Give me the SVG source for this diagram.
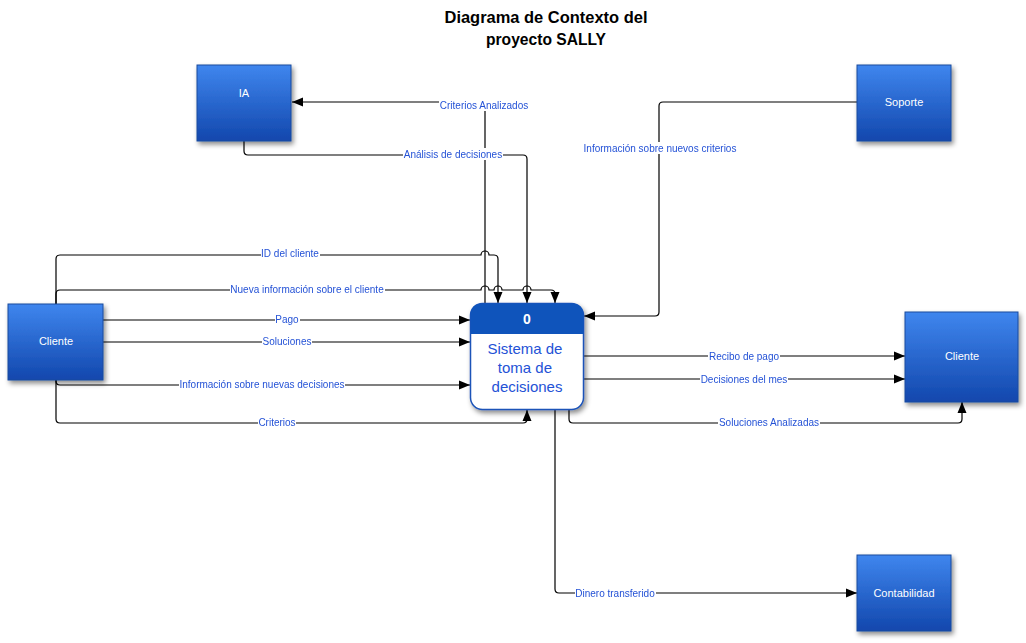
<svg xmlns="http://www.w3.org/2000/svg" width="1026" height="643" viewBox="0 0 1026 643">
<defs>
<linearGradient id="g" x1="0" y1="0" x2="0" y2="1">
<stop offset="0" stop-color="#3f86ee"/>
<stop offset="1" stop-color="#1247ad"/>
</linearGradient>
<filter id="sh" x="-20%" y="-20%" width="150%" height="150%">
<feDropShadow dx="2" dy="3" stdDeviation="2.5" flood-color="#000" flood-opacity="0.45"/>
</filter>
<filter id="bg" x="0" y="0" width="1" height="1" color-interpolation-filters="sRGB">
<feFlood flood-color="#fff"/>
<feComposite in="SourceGraphic"/>
</filter>
<marker id="ar" markerUnits="userSpaceOnUse" markerWidth="12" markerHeight="10" refX="11" refY="5" orient="auto">
<path d="M0,0.5 L11,5 L0,9.5 z" fill="#000"/>
</marker>
</defs>
<style>
.ext{fill:url(#g);stroke:#1c4a9e;stroke-width:1;filter:url(#sh)}
.et{font-family:"Liberation Sans",Arial,sans-serif;font-size:11px;fill:#fff;text-anchor:middle;dominant-baseline:central}
.c{fill:none;stroke:#000;stroke-width:1.2;marker-end:url(#ar)}
.lb{font-family:"Liberation Sans",Arial,sans-serif;font-size:10px;fill:#2452d6;text-anchor:middle;dominant-baseline:central;filter:url(#bg)}
.ti{font-family:"Liberation Sans",Arial,sans-serif;font-size:17px;font-weight:bold;fill:#000;text-anchor:middle}
</style>
<rect width="1026" height="643" fill="#fff"/>
<g id="title">
<text class="ti" x="546" y="23" textLength="203" lengthAdjust="spacingAndGlyphs">Diagrama de Contexto del</text>
<text class="ti" x="546" y="45" textLength="120" lengthAdjust="spacingAndGlyphs">proyecto SALLY</text>
</g>
<g id="connectors">
<path class="c" d="M485,303 V102 H292"/>
<path class="c" d="M244,141 V151 Q244,155 248,155 H523 Q527,155 527,159 V303"/>
<path class="c" d="M56,304 V259 Q56,255 60,255 H481 A4,4 0 0 1 489,255 H494 Q498,255 498,259 V303"/>
<path class="c" d="M56,304 V294 Q56,290 60,290 H481 A4,4 0 0 1 489,290 H494 A4,4 0 0 1 502,290 H523 A4,4 0 0 1 531,290 H551 Q555,290 555,294 V303"/>
<path class="c" d="M103,320 H470"/>
<path class="c" d="M103,342 H470"/>
<path class="c" d="M56,380 V381 Q56,385 60,385 H470"/>
<path class="c" d="M56,380 V419 Q56,423 60,423 H523 Q527,423 527,419 V410"/>
<path class="c" d="M857,102 H663 Q659,102 659,106 V312 Q659,316 655,316 H584"/>
<path class="c" d="M584,356 H905"/>
<path class="c" d="M584,379 H905"/>
<path class="c" d="M569,410 V419 Q569,423 573,423 H958 Q962,423 962,419 V402"/>
<path class="c" d="M555,410 V589 Q555,593 559,593 H857"/>
<text class="lb" x="484" y="105">Criterios Analizados</text>
<text class="lb" x="453" y="154">Análisis de decisiones</text>
<text class="lb" x="290" y="253">ID del cliente</text>
<text class="lb" x="307" y="289">Nueva información sobre el cliente</text>
<text class="lb" x="287" y="319">Pago</text>
<text class="lb" x="287" y="341">Soluciones</text>
<text class="lb" x="262" y="384">Información sobre nuevas decisiones</text>
<text class="lb" x="277" y="422">Criterios</text>
<text class="lb" x="660" y="148">Información sobre nuevos criterios</text>
<text class="lb" x="744" y="356">Recibo de pago</text>
<text class="lb" x="744" y="379">Decisiones del mes</text>
<text class="lb" x="769" y="422">Soluciones Analizadas</text>
<text class="lb" x="615" y="593">Dinero transferido</text>
</g>
<g id="ia">
<rect class="ext" x="197" y="65" width="94" height="76"/>
<text class="et" x="244" y="93">IA</text>
</g>
<g id="soporte">
<rect class="ext" x="857" y="65" width="94" height="76"/>
<text class="et" x="904" y="102">Soporte</text>
</g>
<g id="cliente-in">
<rect class="ext" x="8" y="304" width="95" height="76"/>
<text class="et" x="56" y="341">Cliente</text>
</g>
<g id="cliente-out">
<rect class="ext" x="905" y="312" width="113" height="90"/>
<text class="et" x="962" y="356">Cliente</text>
</g>
<g id="contabilidad">
<rect class="ext" x="857" y="555" width="94" height="76"/>
<text class="et" x="904" y="593">Contabilidad</text>
</g>
<g id="proceso">
<g filter="url(#sh)">
<rect x="470.5" y="303.5" width="113" height="106" rx="12" fill="#fff" stroke="#1a52b8" stroke-width="1.5"/>
</g>
<path d="M470.5,334 V315.5 Q470.5,303.5 482.5,303.5 H571.5 Q583.5,303.5 583.5,315.5 V334 Z" fill="#0f54bb"/>
<text x="527" y="319" font-family="'Liberation Sans',Arial,sans-serif" font-size="14" font-weight="bold" fill="#fff" text-anchor="middle" dominant-baseline="central">0</text>
<text font-family="'Liberation Sans',Arial,sans-serif" font-size="15" fill="#2452d6" text-anchor="middle">
<tspan x="527" y="354">Sistema de</tspan>
<tspan x="527" y="373">toma de</tspan>
<tspan x="527" y="392">decisiones</tspan>
</text>
</g>
</svg>
